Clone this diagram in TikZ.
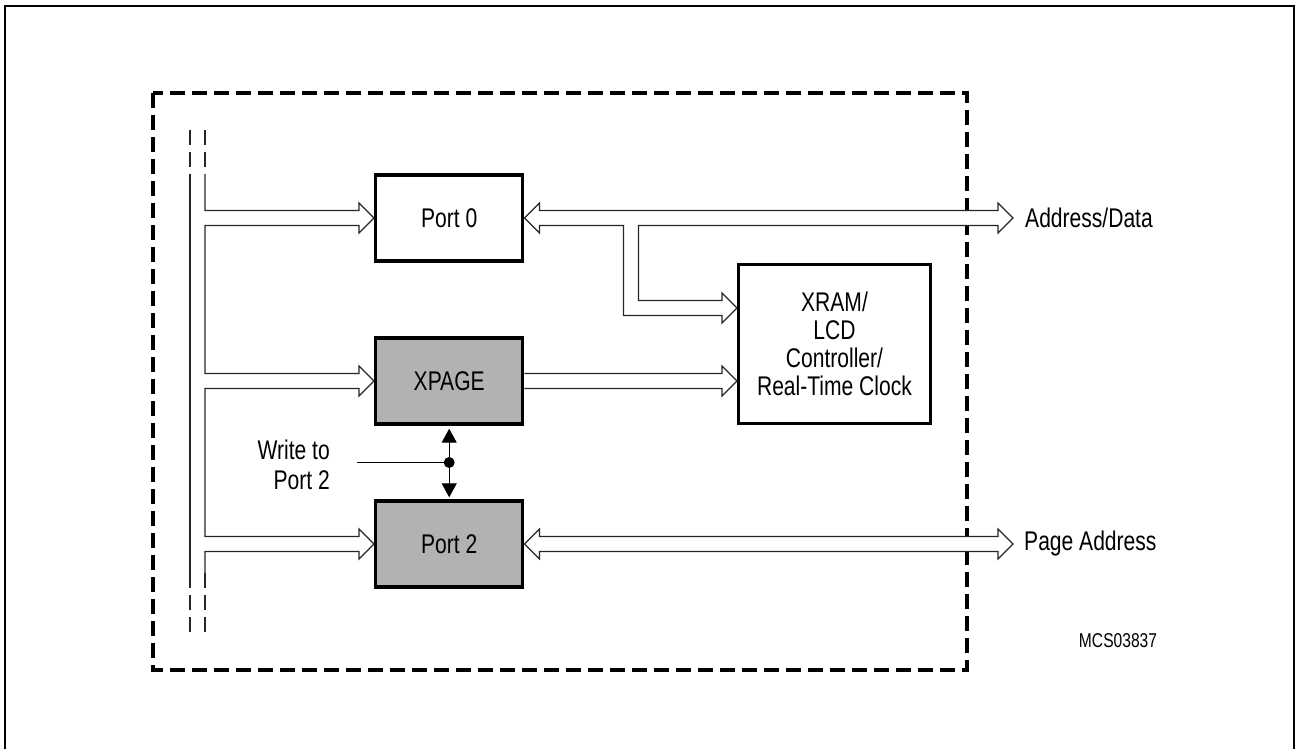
\documentclass[tikz,border=0pt]{standalone}
\usepackage{fontspec}
\setmainfont{Liberation Sans}[FakeStretch=0.78]
\usetikzlibrary{calc,arrows.meta}
\definecolor{boxgray}{RGB}{178,178,178}
\begin{document}
\begin{tikzpicture}[x=1pt,y=-1pt,
  blk/.style={draw,line width=3.4pt,minimum width=147pt,minimum height=86pt,inner sep=0pt,align=center,font=\fontsize{27}{28}\selectfont},
  shaded/.style={fill=boxgray},
  wline/.style={draw=black!85,line width=1.2pt,line join=miter},
  wfill/.style={wline,fill=white},
  lbl/.style={font=\fontsize{27}{30}\selectfont,inner sep=0pt},
  frame/.style={line width=3.4pt,dash pattern=on 15pt off 7pt},
  busdash/.style={draw=black!85,line width=1.2pt,dash pattern=on 15pt off 7pt},
  dbl/.style={line width=1.2pt,{Triangle[length=14pt,width=15pt]}-{Triangle[length=14pt,width=15pt]}}]
\useasboundingbox (0,0) rectangle (1295,749);
% outer frame
\draw[line width=2pt] (5,760) -- (5,6) -- (1294,6) -- (1294,760);
% dashed boundary
\draw[frame] (153,93) rectangle (967,670);
% blocks
\node[blk] (p0) at (449.2,218) {Port 0};
\node[blk,shaded] (xp) at (449.2,381) {XPAGE};
\node[blk,shaded] (p2) at (449.2,544) {Port 2};
\node[blk,minimum width=191.6pt,minimum height=158.6pt] (xr) at (834.5,344) {XRAM/\\LCD\\Controller/\\Real-Time Clock};
% labels
\node[lbl,anchor=west] (ad) at (1025,218) {Address/Data};
\node[lbl,anchor=west] (pa) at (1024,544) {Page Address};
\node[lbl,anchor=east,align=right] (wr) at (330,465) {Write to\\Port 2};
\node[font=\fontsize{20}{22}\selectfont,inner sep=0pt] (mcs) at (1118,641) {MCS03837};
% helper coordinates
\coordinate (adtip) at ($(ad.west)+(-12,0)$);
\coordinate (patip) at ($(pa.west)+(-11,0)$);
\coordinate (xrin) at ($(xr.west)+(0,-36)$);
\coordinate (xrin2) at (xr.west |- xp.east);
\coordinate (t0) at (p0.west);
\coordinate (t1) at (xp.west);
\coordinate (t2) at (p2.west);
% internal bus
\draw[busdash] (190,130) -- (190,170);
\draw[busdash] (205,130) -- (205,170);
\draw[wline] (190,174) -- (190,573);
\draw[busdash] (190,573) -- (190,633);
\draw[busdash] (205,573) -- (205,633);
\draw[wline] (205,174) -- (205,210.5)
  -- ($(t0)+(-15,-7.5)$) -- ($(t0)+(-15,-15)$) -- (t0) -- ($(t0)+(-15,15)$) -- ($(t0)+(-15,7.5)$)
  -- (205,225.5) -- (205,373.5)
  -- ($(t1)+(-15,-7.5)$) -- ($(t1)+(-15,-15)$) -- (t1) -- ($(t1)+(-15,15)$) -- ($(t1)+(-15,7.5)$)
  -- (205,388.5) -- (205,536.5)
  -- ($(t2)+(-15,-7.5)$) -- ($(t2)+(-15,-15)$) -- (t2) -- ($(t2)+(-15,15)$) -- ($(t2)+(-15,7.5)$)
  -- (205,551.5) -- (205,573);
% Port 0 <-> Address/Data with branch to XRAM
\draw[wfill] (p0.east) -- ++(15,-15) -- ++(0,7.5) -- ($(adtip)+(-15,-7.5)$) -- ++(0,-7.5) -- (adtip)
  -- ++(-15,15) -- ++(0,-7.5) -- ($(p0.east)+(114,7.5)$) |- ($(xrin)+(-15,-7.5)$)
  -- ++(0,-7.5) -- (xrin) -- ++(-15,15) -- ++(0,-7.5) -| ($(p0.east)+(99,7.5)$)
  -- ++(-84,0) -- ++(0,7.5) -- cycle;
% XPAGE -> XRAM
\draw[wfill] ($(xp.east)+(0,-7.5)$) -- ($(xrin2)+(-15,-7.5)$) -- ++(0,-7.5) -- (xrin2)
  -- ++(-15,15) -- ++(0,-7.5) -- ($(xp.east)+(0,7.5)$);
% Port 2 <-> Page Address
\draw[wfill] (p2.east) -- ++(15,-15) -- ++(0,7.5) -- ($(patip)+(-15,-7.5)$) -- ++(0,-7.5) -- (patip)
  -- ++(-15,15) -- ++(0,-7.5) -- ($(p2.east)+(15,7.5)$) -- ++(0,7.5) -- cycle;
% Write to Port 2
\node[circle,fill,inner sep=0pt,minimum size=11pt] (dot) at ($(xp.south)!0.5!(p2.north)$) {};
\coordinate (wstart) at ($(dot)+(-92,0)$);
\draw[line width=1.2pt] (wstart) -- (dot);
\draw[dbl,shorten <=3pt,shorten >=2pt] (xp.south) -- (p2.north);
\end{tikzpicture}
\end{document}
